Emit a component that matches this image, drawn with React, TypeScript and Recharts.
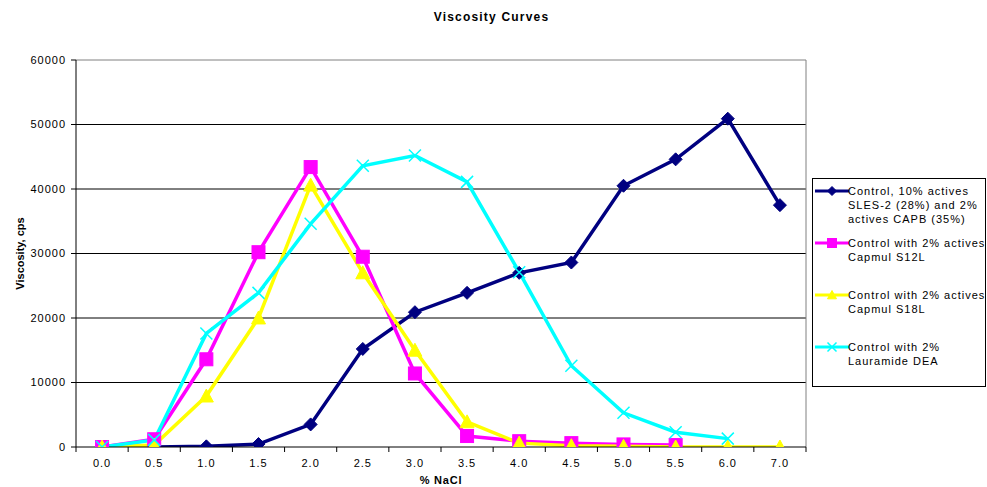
import React from 'react';
import { LineChart, Line, XAxis, YAxis, CartesianGrid } from 'recharts';

// ---- data ----
const naclLabels = ['0.0', '0.5', '1.0', '1.5', '2.0', '2.5', '3.0', '3.5', '4.0', '4.5', '5.0', '5.5', '6.0', '7.0'];
const controlValues = [null, 0, 100, 460, 3500, 15200, 20900, 23900, 27000, 28600, 40500, 44600, 50900, 37500];
const s12lValues = [0, 1200, 13600, 30200, 43400, 29500, 11400, 1700, 900, 600, 400, 300, null, null];
const s18lValues = [0, 300, 7900, 20000, 40600, 27000, 15000, 3900, 600, 200, 100, 0, 0, 0];
const deaValues = [0, 1100, 17600, 23900, 34600, 43600, 45200, 41100, 27100, 12600, 5300, 2300, 1300, null];
const yTicks = [0, 10000, 20000, 30000, 40000, 50000, 60000];
const seriesNames = [
  'Control, 10% actives\nSLES-2 (28%) and 2%\nactives CAPB (35%)',
  'Control with 2% actives\nCapmul S12L',
  'Control with 2% actives\nCapmul S18L',
  'Control with 2%\nLauramide DEA',
];
const seriesKeys = ['control', 's12l', 's18l', 'dea'];
const title = 'Viscosity Curves';
const xTitle = '% NaCl';
const yTitle = 'Viscosity, cps';

const data = naclLabels.map((n, i) => ({
  nacl: n,
  control: controlValues[i],
  s12l: s12lValues[i],
  s18l: s18lValues[i],
  dea: deaValues[i],
}));

// ---- styles ----
const FONT = '"Liberation Sans", Arial, sans-serif';
const styles = [
  { color: '#000080', shape: 'diamond', r: 6.5 },
  { color: '#FF00FF', shape: 'square', r: 6.5 },
  { color: '#FFFF00', shape: 'triangle', r: 7 },
  { color: '#00FFFF', shape: 'x', r: 6 },
];

function marker(shape: string, cx: number, cy: number, r: number, color: string, key?: any) {
  if (shape === 'diamond') {
    return <path key={key} d={`M${cx},${cy - r}L${cx + r},${cy}L${cx},${cy + r}L${cx - r},${cy}Z`} fill={color} stroke={color} strokeWidth={1} />;
  }
  if (shape === 'square') {
    return <rect key={key} x={cx - r} y={cy - r} width={2 * r} height={2 * r} fill={color} stroke={color} strokeWidth={1} />;
  }
  if (shape === 'triangle') {
    return <path key={key} d={`M${cx},${cy - r}L${cx + r},${cy + r * 0.85}L${cx - r},${cy + r * 0.85}Z`} fill={color} stroke={color} strokeWidth={1} />;
  }
  return (
    <path key={key} d={`M${cx - r},${cy - r}L${cx + r},${cy + r}M${cx - r},${cy + r}L${cx + r},${cy - r}`} stroke={color} strokeWidth={1.5} fill="none" />
  );
}

const makeDot = (shape: string, color: string, r: number) => (props: any) => {
  const { cx, cy, index, value } = props;
  if (cx == null || cy == null || value == null || Number.isNaN(cy)) return <g key={`d${index}`} />;
  return marker(shape, cx, cy, r, color, `d${index}`);
};

const YLabel = (props: any) => {
  const vb = props.viewBox || {};
  const x = (vb.x || 0) + 20;
  const y = (vb.y || 0) + (vb.height || 0) / 2;
  return (
    <text x={x} y={y} transform={`rotate(-90 ${x} ${y})`} textAnchor="middle" dominantBaseline="central"
      style={{ fontFamily: FONT, fontSize: 11, fontWeight: 'bold', fill: '#000' }}>
      {yTitle}
    </text>
  );
};

const XLabel = (props: any) => {
  const vb = props.viewBox || {};
  const x = (vb.x || 0) + (vb.width || 0) / 2;
  const y = (vb.y || 0) + 33;
  return (
    <text x={x} y={y} textAnchor="middle" dominantBaseline="central"
      style={{ fontFamily: FONT, fontSize: 11, fontWeight: 'bold', fill: '#000', letterSpacing: 0.8 }}>
      {xTitle}
    </text>
  );
};

const tickStyle = { fontFamily: FONT, fontSize: 11, fill: '#000', letterSpacing: 1 } as any;

// Excel-style category tick: tick marks sit on the band boundaries, label at band centre
const XTick = (props: any) => {
  const { x, y, payload, index, visibleTicksCount } = props;
  const off = payload && payload.offset ? payload.offset : 0;
  const axisY = y - 12;
  const isLast = index === (visibleTicksCount ?? naclLabels.length) - 1;
  return (
    <g>
      <line x1={x - off} y1={axisY} x2={x - off} y2={axisY + 5} stroke="#000" />
      {isLast && <line x1={x + off} y1={axisY} x2={x + off} y2={axisY + 5} stroke="#000" />}
      <text x={x} y={y} dy="0.71em" textAnchor="middle" style={tickStyle}>{payload.value}</text>
    </g>
  );
};

export default function App() {
  return (
    <div style={{ position: 'absolute', left: 0, top: 0, width: 987, height: 487, background: '#fff', fontFamily: FONT }}>
      <div style={{ position: 'absolute', left: 0, top: 8, width: 983, textAlign: 'center', fontSize: 12, fontWeight: 'bold', letterSpacing: 1.2, lineHeight: '18px', color: '#000' }}>
        {title}
      </div>
      <LineChart width={987} height={487} data={data} margin={{ top: 60, right: 181, bottom: 0, left: 0 }}>
        <CartesianGrid horizontal vertical={false} stroke="#000" strokeWidth={1} horizontalValues={yTicks.slice(1, -1)} />
        <CartesianGrid stroke="#808080" strokeWidth={1}
          horizontalCoordinatesGenerator={(p: any) => [p.offset.top]}
          verticalCoordinatesGenerator={(p: any) => [p.offset.left + p.offset.width]} />
        <XAxis dataKey="nacl" scale="band" height={40} tickLine={false} tickSize={5} tickMargin={7} interval={0}
          axisLine={{ stroke: '#000' }} tick={<XTick />} label={<XLabel />} />
        <YAxis width={76} domain={[0, 60000]} ticks={yTicks} interval={0} tickSize={5} tickMargin={5}
          axisLine={{ stroke: '#000' }} tickLine={{ stroke: '#000' }} tick={tickStyle} label={<YLabel />} allowDataOverflow />
        {seriesKeys.map((k, i) => (
          <Line key={k} dataKey={k} type="linear" stroke={styles[i].color} strokeWidth={3.5}
            dot={makeDot(styles[i].shape, styles[i].color, styles[i].r)} activeDot={false}
            connectNulls={false} isAnimationActive={false} />
        ))}
      </LineChart>
      <div style={{ position: 'absolute', left: 812, top: 178, width: 172, height: 207, border: '1px solid #000', background: '#fff' }}>
        {seriesNames.map((name, i) => (
          <div key={i} style={{ position: 'absolute', left: 0, top: 5 + i * 52, width: 172, height: 52 }}>
            <svg width={34} height={14} style={{ position: 'absolute', left: 2, top: 0 }}>
              <line x1={0} y1={7} x2={34} y2={7} stroke={styles[i].color} strokeWidth={3} />
              {marker(styles[i].shape, 17, 7, 4.5, styles[i].color)}
            </svg>
            <div style={{ position: 'absolute', left: 35, top: 0, fontSize: 11, letterSpacing: 1, lineHeight: '14px', whiteSpace: 'pre', color: '#000' }}>
              {name}
            </div>
          </div>
        ))}
      </div>
    </div>
  );
}
